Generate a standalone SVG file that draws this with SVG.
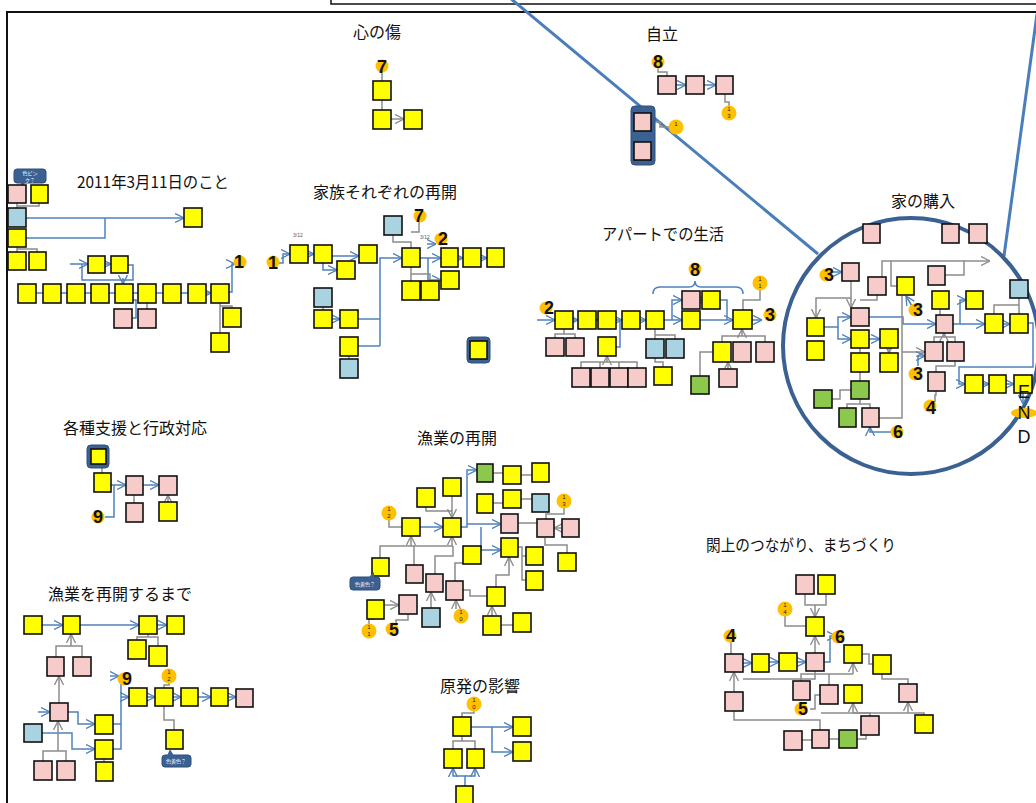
<svg xmlns="http://www.w3.org/2000/svg" width="1036" height="803" viewBox="0 0 1036 803">
<style>
.y{fill:#FFFF00;stroke:#111;stroke-width:1.6}
.p{fill:#F8CBCB;stroke:#111;stroke-width:1.6}
.b{fill:#A9D3E0;stroke:#111;stroke-width:1.6}
.g{fill:#8CC84B;stroke:#111;stroke-width:1.6}
.hl{fill:#3B6092;stroke:#2E4F7A;stroke-width:1}
.t{font-family:"Noto Sans CJK JP","Noto Sans",sans-serif;font-size:16px;fill:#111}
.n{font-family:"Liberation Sans",Arial,sans-serif;font-size:18px;font-weight:bold;fill:#111;text-anchor:middle}
.s{font-family:"Liberation Sans",Arial,sans-serif;font-size:6px;fill:#222;text-anchor:middle}
.tiny{font-family:"Liberation Sans",Arial,sans-serif;font-size:5px;fill:#555}
.co{font-family:"Noto Sans CJK JP",sans-serif;font-size:5px;fill:#fff;text-anchor:middle}
.or{fill:#FFC000}
.cb{fill:none;stroke:#4F81BD;stroke-width:1.5;marker-end:url(#mb)}
.cbn{fill:none;stroke:#4F81BD;stroke-width:1.5}
.cg{fill:none;stroke:#8C8C8C;stroke-width:1.5}
.cga{fill:none;stroke:#8C8C8C;stroke-width:1.5;marker-end:url(#mg)}
</style>
<defs>
<marker id="mb" viewBox="0 0 10 10" refX="10" refY="5" markerWidth="9" markerHeight="10" markerUnits="userSpaceOnUse" orient="auto"><path d="M0,0 L10,5 L0,10" fill="none" stroke="#4F81BD" stroke-width="1.5"/></marker>
<marker id="mg" viewBox="0 0 10 10" refX="10" refY="5" markerWidth="9" markerHeight="10" markerUnits="userSpaceOnUse" orient="auto"><path d="M0,0 L10,5 L0,10" fill="none" stroke="#8C8C8C" stroke-width="1.5"/></marker>
</defs>
<rect width="1036" height="803" fill="#fff"/>
<g id="frame">
<rect x="7" y="12" width="1040" height="800" fill="none" stroke="#111" stroke-width="2"/>
<rect x="331" y="-10" width="710" height="14" fill="#fff" stroke="#111" stroke-width="1.5"/>
</g>
<g id="magnifier">
<line x1="510" y1="-2" x2="818" y2="254" stroke="#4A7EBB" stroke-width="3"/>
<line x1="1037" y1="14" x2="1004" y2="256" stroke="#4A7EBB" stroke-width="3"/>
<circle cx="911" cy="346" r="128" fill="none" stroke="#3B6092" stroke-width="4"/>
</g>
<g id="titles">
<text class="t" x="353" y="38">心の傷</text>
<text class="t" x="646" y="40">自立</text>
<text class="t" x="77" y="188" textLength="152" lengthAdjust="spacingAndGlyphs">2011年3月11日のこと</text>
<text class="t" x="313" y="198">家族それぞれの再開</text>
<text class="t" x="602" y="240" textLength="122" lengthAdjust="spacingAndGlyphs">アパートでの生活</text>
<text class="t" x="891" y="207">家の購入</text>
<text class="t" x="63" y="434">各種支援と行政対応</text>
<text class="t" x="417" y="444">漁業の再開</text>
<text class="t" x="706" y="551" textLength="190" lengthAdjust="spacingAndGlyphs">閖上のつながり、まちづくり</text>
<text class="t" x="48" y="600">漁業を再開するまで</text>
<text class="t" x="440" y="692">原発の影響</text>
</g>
<g id="connectors">
<path class="cb" d="M26,218 H184"/>
<path class="cbn" d="M26,238 H105 V218"/>
<path class="cg" d="M17,203 V208 M39,203 V206 H17 M17,247 V252 M17,249 H37 V252"/>
<path class="cb" d="M70,264 H88"/>
<path class="cb" d="M105,264 H111"/>
<path class="cbn" d="M82,264 V280 H133 V265 H128"/>
<path class="cb" d="M123,278 V284"/>
<path class="cb" d="M36,293 H43 M61,293 H67 M85,293 H91 M109,293 H115 M133,293 H138 M156,293 H163 M181,293 H188 M206,293 H211"/>
<path class="cb" d="M229,292 H232 V264 H235"/>
<path class="cbn" d="M133,300 H136 V318 H132"/>
<path class="cg" d="M220,303 V333 M220,306 H232 V308 M147,303 V309"/>
<path class="cg" d="M102,468 V473"/>
<path class="cb" d="M111,485 H126"/>
<path class="cbn" d="M105,517 H114 V485"/>
<path class="cb" d="M143,485 H159"/>
<path class="cga" d="M134,503 V495 M168,502 V495"/>
<path class="cg" d="M382,72 V81 M382,100 V110"/>
<path class="cga" d="M391,119 H404"/>
<path class="cb" d="M276,263 H283 V254 H290"/>
<path class="cb" d="M308,254 H314"/>
<path class="cb" d="M332,256 H359"/>
<path class="cb" d="M323,263 V270 H337"/>
<path class="cbn" d="M358,319 H380 M358,346 H380"/>
<path class="cb" d="M380,346 V258 H402"/>
<path class="cg" d="M393,235 V242 H411 V248 M419,222 V232 H411"/>
<path class="cb" d="M420,258 H441"/>
<path class="cb" d="M428,258 V280 H441"/>
<path class="cb" d="M459,258 H463"/>
<path class="cb" d="M481,258 H487"/>
<path class="cb" d="M427,244 H436"/>
<path class="cg" d="M411,267 V274 H430 V281 M411,274 V281"/>
<path class="cg" d="M323,307 V310 M349,356 V359"/>
<path class="cb" d="M332,319 H340"/>
<path class="cg" d="M658,68 V72 H667 V76"/>
<path class="cb" d="M676,85 H686"/>
<path class="cb" d="M704,85 H716"/>
<path class="cg" d="M725,94 V102 H729 V106 M651,122 H660 V127 H669"/>
<path class="cb" d="M537,320 H555"/>
<path class="cb" d="M573,320 H578"/>
<path class="cb" d="M592,320 H598"/>
<path class="cb" d="M616,320 H622"/>
<path class="cb" d="M640,320 H646"/>
<path class="cb" d="M664,320 H682"/>
<path class="cb" d="M672,320 V300 H682"/>
<path class="cb" d="M700,300 H706"/>
<path class="cbn" d="M720,300 H727 V320"/>
<path class="cb" d="M700,320 H733"/>
<path class="cb" d="M752,320 H762"/>
<path class="cbn" d="M616,347 H620 V320"/>
<path class="cbn" d="M653,294 Q653,287 660,287 H689 Q695,287 695,281 Q695,287 701,287 H736 Q743,287 743,294"/>
<path class="cg" d="M760,290 V300 H743 V310"/>
<path class="cg" d="M564,329 V334 H555 V338 M564,334 H575 V338"/>
<path class="cg" d="M581,368 V362 H637 V368 M600,368 V362 M619,368 V362"/>
<path class="cga" d="M607,362 V356"/>
<path class="cg" d="M655,329 V335 H675 V339 M655,335 V339 M655,358 V362 H663 V367"/>
<path class="cg" d="M722,342 V336 H765 V342"/>
<path class="cga" d="M742,336 V329"/>
<path class="cg" d="M700,376 V352 H713"/>
<path class="cga" d="M728,369 V362"/>
<path class="cg" d="M882,288 V261 H964 V275 H945"/>
<path class="cga" d="M964,261 H990"/>
<path class="cg" d="M897,286 H891 V261"/>
<path class="cb" d="M832,272 H842"/>
<path class="cga" d="M851,281 V298 H816 V318"/>
<path class="cga" d="M851,298 V308"/>
<path class="cg" d="M877,295 V300 H860"/>
<path class="cb" d="M912,306 L906,296"/>
<path class="cb" d="M824,327 H838 V317 H851"/>
<path class="cb" d="M838,327 V339 H851"/>
<path class="cb" d="M869,317 H903 V324 H936"/>
<path class="cb" d="M869,339 H880"/>
<path class="cg" d="M860,348 V353"/>
<path class="cga" d="M889,345 V353"/>
<path class="cg" d="M860,372 V381 M851,390 H840 V399 H832 M860,399 V404 H847 V408 M860,404 H870 V408"/>
<path class="cg" d="M879,418 H902 V296"/>
<path class="cga" d="M902,352 H925"/>
<path class="cb" d="M892,432 H870 V427"/>
<path class="cg" d="M940,309 V315"/>
<path class="cb" d="M953,324 H960 V300 H966"/>
<path class="cb" d="M960,324 H985"/>
<path class="cg" d="M934,342 V337 H955 V342 M936,372 V366 H955 V361"/>
<path class="cga" d="M944,337 V333"/>
<path class="cb" d="M918,366 V356 H925"/>
<path class="cg" d="M935,402 V395 H936 V391"/>
<path class="cb" d="M1003,324 H1010"/>
<path class="cg" d="M1019,298 V305 H994 V314 M1019,305 V314"/>
<path class="cb" d="M1028,323 H1033 V367 H959 V384 H965"/>
<path class="cb" d="M983,384 H989"/>
<path class="cb" d="M1006,384 H1014"/>
<path class="cb" d="M1023,393 V404"/>
<path class="cg" d="M389,520 V527 H402"/>
<path class="cb" d="M420,527 H443"/>
<path class="cg" d="M426,507 V511 H452"/>
<path class="cga" d="M452,496 V518"/>
<path class="cb" d="M461,527 H467 V470 H477"/>
<path class="cb" d="M467,524 H501"/>
<path class="cb" d="M481,527 V550 H501"/>
<path class="cg" d="M493,473 H503 M493,503 H503 M521,475 H532 M521,499 H532 M518,523 H537"/>
<path class="cg" d="M564,508 V514 H546 V519"/>
<path class="cga" d="M562,528 H554"/>
<path class="cg" d="M380,558 V546 H453 M414,565 V546 M435,574 V556 H453 V546 M455,581 V563 H470"/>
<path class="cga" d="M411,546 V536"/>
<path class="cga" d="M452,546 V536"/>
<path class="cg" d="M463,590 H470 V596 H487"/>
<path class="cga" d="M496,587 V575 H509 V557"/>
<path class="cga" d="M492,616 V606"/>
<path class="cg" d="M501,625 H513 M518,547 H522 V580 H526 M522,556 H526 M545,538 V545 H567 V553"/>
<path class="cga" d="M431,608 V592"/>
<path class="cga" d="M384,605 H399"/>
<path class="cg" d="M408,614 V620 H396 V624 M369,624 V619 H375"/>
<path class="cga" d="M456,609 V600"/>
<path class="cg" d="M474,711 V713 H462 V717"/>
<path class="cb" d="M471,727 H513"/>
<path class="cb" d="M492,727 V752 H513"/>
<path class="cg" d="M462,736 V741 H453 V749 M462,741 H475 V749"/>
<path class="cb" d="M465,786 V776 H453 V768"/>
<path class="cb" d="M465,776 H475 V768"/>
<path class="cg" d="M731,642 V654"/>
<path class="cb" d="M743,663 H752"/>
<path class="cb" d="M769,662 H779"/>
<path class="cb" d="M797,662 H806"/>
<path class="cb" d="M824,662 H830 V636 H836"/>
<path class="cg" d="M785,616 V626 H806 M805,594 V605 H826 V594"/>
<path class="cga" d="M815,605 V617"/>
<path class="cga" d="M815,653 V636"/>
<path class="cga" d="M734,692 V672"/>
<path class="cg" d="M743,679 H815 V671 M734,711 V720 H820 V730"/>
<path class="cg" d="M862,654 H869 V664 H873"/>
<path class="cg" d="M801,681 V674 H853 M829,685 V674"/>
<path class="cga" d="M853,674 V663"/>
<path class="cg" d="M882,674 V679 H908 V684"/>
<path class="cga" d="M908,713 V702"/>
<path class="cg" d="M821,713 H924 V715"/>
<path class="cg" d="M810,709 H815 V695 H820"/>
<path class="cga" d="M853,713 V703"/>
<path class="cg" d="M853,713 H870 V716 M802,740 H812 M829,739 H839 M857,739 H866 V735"/>
<path class="cb" d="M42,625 H63"/>
<path class="cb" d="M80,625 H139"/>
<path class="cb" d="M157,625 H167"/>
<path class="cg" d="M148,634 V637 H137 V640 M148,637 H158 V646"/>
<path class="cg" d="M56,657 V646 H82 V657"/>
<path class="cga" d="M71,646 V634"/>
<path class="cga" d="M59,703 V676"/>
<path class="cb" d="M38,712 H50"/>
<path class="cb" d="M68,712 H78 V724 H95"/>
<path class="cb" d="M42,733 H72 V749 H95"/>
<path class="cg" d="M43,761 V751 H66 V761"/>
<path class="cga" d="M58,751 V721"/>
<path class="cg" d="M104,762 V759"/>
<path class="cbn" d="M113,724 H121 M113,749 H121 V676"/>
<path class="cb" d="M121,697 H129"/>
<path class="cb" d="M110,676 H119"/>
<path class="cb" d="M147,697 H155"/>
<path class="cb" d="M173,697 H181"/>
<path class="cb" d="M198,697 H211"/>
<path class="cb" d="M228,697 H236"/>
<path class="cg" d="M169,683 V685 H164 V688 M164,706 V720 H174 V730"/>
</g>
<g id="n-callout-pink"><rect x="14" y="169" width="32" height="14" rx="3" class="hl"/><path d="M20,182 L22,186 L26,182 Z" fill="#3B6092"/><text class="co" x="30" y="175">色ピン</text><text class="co" x="30" y="181.5">ク？</text></g>
<g id="n1a"><rect class="p" x="8" y="185" width="18" height="18"/></g>
<g id="n1b"><rect class="y" x="31" y="185" width="17" height="18"/></g>
<g id="n1c"><rect class="b" x="8" y="208" width="18" height="19"/></g>
<g id="n1d"><rect class="y" x="8" y="229" width="18" height="18"/></g>
<g id="n1e"><rect class="y" x="8" y="252" width="18" height="18"/></g>
<g id="n1f"><rect class="y" x="29" y="252" width="17" height="18"/></g>
<g id="n1g"><rect class="y" x="184" y="208" width="18" height="19"/></g>
<g id="n1h"><rect class="y" x="88" y="256" width="17" height="17"/></g>
<g id="n1i"><rect class="y" x="111" y="256" width="17" height="17"/></g>
<g id="n1r1"><rect class="y" x="18" y="284" width="18" height="19"/></g>
<g id="n1r2"><rect class="y" x="43" y="284" width="18" height="19"/></g>
<g id="n1r3"><rect class="y" x="67" y="284" width="18" height="19"/></g>
<g id="n1r4"><rect class="y" x="91" y="284" width="18" height="19"/></g>
<g id="n1r5"><rect class="y" x="115" y="284" width="18" height="19"/></g>
<g id="n1r6"><rect class="y" x="138" y="284" width="18" height="19"/></g>
<g id="n1r7"><rect class="y" x="163" y="284" width="18" height="19"/></g>
<g id="n1r8"><rect class="y" x="188" y="284" width="18" height="19"/></g>
<g id="n1r9"><rect class="y" x="211" y="284" width="18" height="19"/></g>
<g id="n1p1"><rect class="p" x="114" y="309" width="18" height="19"/></g>
<g id="n1p2"><rect class="p" x="138" y="309" width="18" height="19"/></g>
<g id="n1j"><rect class="y" x="223" y="308" width="18" height="19"/></g>
<g id="n1k"><rect class="y" x="211" y="333" width="18" height="19"/></g>
<g id="num1a"><circle class="or" cx="240" cy="262" r="6.5"/><text class="n" x="239" y="268">1</text></g>
<g id="n2a"><rect class="hl" x="87" y="445" width="22" height="23" rx="4"/><rect class="y" x="91" y="449" width="15" height="15"/></g>
<g id="n2b"><rect class="y" x="94" y="473" width="17" height="19"/></g>
<g id="n2c"><rect class="p" x="126" y="476" width="17" height="19"/></g>
<g id="n2d"><rect class="p" x="159" y="476" width="18" height="19"/></g>
<g id="n2e"><rect class="p" x="126" y="503" width="17" height="19"/></g>
<g id="n2f"><rect class="y" x="159" y="502" width="18" height="19"/></g>
<g id="num9a"><circle class="or" cx="98" cy="517" r="6.5"/><text class="n" x="98" y="523">9</text></g>
<g id="n3a"><rect class="y" x="373" y="81" width="18" height="19"/></g>
<g id="n3b"><rect class="y" x="373" y="110" width="18" height="19"/></g>
<g id="n3c"><rect class="y" x="404" y="110" width="18" height="19"/></g>
<g id="num7a"><circle class="or" cx="382" cy="66" r="6.5"/><text class="n" x="382" y="73">7</text></g>
<g id="n4a"><rect class="y" x="290" y="245" width="18" height="18"/></g>
<g id="n4b"><rect class="y" x="314" y="245" width="18" height="18"/></g>
<g id="n4c"><rect class="y" x="359" y="245" width="18" height="18"/></g>
<g id="n4d"><rect class="b" x="384" y="216" width="18" height="19"/></g>
<g id="n4e"><rect class="y" x="402" y="248" width="18" height="19"/></g>
<g id="n4f"><rect class="y" x="441" y="248" width="17" height="19"/></g>
<g id="n4g"><rect class="y" x="463" y="248" width="18" height="19"/></g>
<g id="n4h"><rect class="y" x="487" y="248" width="17" height="19"/></g>
<g id="n4i"><rect class="y" x="337" y="261" width="18" height="18"/></g>
<g id="n4j"><rect class="y" x="402" y="281" width="18" height="19"/></g>
<g id="n4k"><rect class="y" x="421" y="281" width="18" height="19"/></g>
<g id="n4l"><rect class="y" x="441" y="271" width="18" height="18"/></g>
<g id="n4m"><rect class="b" x="314" y="288" width="18" height="19"/></g>
<g id="n4n"><rect class="y" x="314" y="310" width="18" height="18"/></g>
<g id="n4o"><rect class="y" x="340" y="310" width="18" height="18"/></g>
<g id="n4p"><rect class="y" x="340" y="337" width="18" height="19"/></g>
<g id="n4q"><rect class="b" x="340" y="359" width="18" height="19"/></g>
<g id="n4r"><rect class="hl" x="467" y="337" width="23" height="26" rx="4"/><rect class="y" x="470" y="341" width="17" height="18"/></g>
<g id="num1b"><circle class="or" cx="273" cy="262" r="6.5"/><text class="n" x="273" y="269">1</text></g>
<g id="num7b"><circle class="or" cx="420" cy="216" r="6.5"/><text class="n" x="419" y="222">7</text></g>
<g id="num2a"><circle class="or" cx="441" cy="239" r="6.5"/><text class="n" x="443" y="245">2</text></g>
<text class="tiny" x="293" y="237">3/12</text>
<text class="tiny" x="420" y="239">3/12</text>
<g id="n5a"><rect class="p" x="658" y="76" width="18" height="18"/></g>
<g id="n5b"><rect class="p" x="686" y="76" width="18" height="18"/></g>
<g id="n5c"><rect class="p" x="716" y="76" width="17" height="18"/></g>
<g id="n5d"><rect class="hl" x="631" y="106" width="24" height="59" rx="4"/><rect class="p" x="634" y="113" width="17" height="18"/><rect class="p" x="634" y="142" width="17" height="18"/></g>
<g id="num8a"><circle class="or" cx="658" cy="62" r="6.5"/><text class="n" x="658" y="68">8</text></g>
<g id="num13a"><circle class="or" cx="729" cy="113" r="7.5"/><text class="s" x="729" y="111">1</text><text class="s" x="729" y="118">3</text></g>
<g id="num1c"><circle class="or" cx="676" cy="127" r="7.5"/><text class="s" x="676" y="126">1</text></g>
<g id="n6a"><rect class="y" x="555" y="311" width="18" height="18"/></g>
<g id="n6b"><rect class="y" x="578" y="311" width="18" height="18"/></g>
<g id="n6c"><rect class="y" x="598" y="311" width="18" height="18"/></g>
<g id="n6d"><rect class="y" x="622" y="311" width="18" height="18"/></g>
<g id="n6e"><rect class="y" x="646" y="311" width="18" height="18"/></g>
<g id="n6f"><rect class="p" x="682" y="291" width="18" height="18"/></g>
<g id="n6g"><rect class="y" x="702" y="291" width="18" height="18"/></g>
<g id="n6h"><rect class="y" x="682" y="311" width="18" height="18"/></g>
<g id="n6i"><rect class="y" x="733" y="310" width="19" height="19"/></g>
<g id="n6j"><rect class="p" x="546" y="338" width="18" height="18"/></g>
<g id="n6k"><rect class="p" x="566" y="338" width="18" height="18"/></g>
<g id="n6l"><rect class="y" x="598" y="337" width="18" height="19"/></g>
<g id="n6m"><rect class="p" x="572" y="368" width="18" height="19"/></g>
<g id="n6n"><rect class="p" x="591" y="368" width="18" height="19"/></g>
<g id="n6o"><rect class="p" x="610" y="368" width="18" height="19"/></g>
<g id="n6p"><rect class="p" x="628" y="368" width="18" height="19"/></g>
<g id="n6q"><rect class="b" x="646" y="339" width="18" height="19"/></g>
<g id="n6r"><rect class="b" x="666" y="339" width="18" height="19"/></g>
<g id="n6s"><rect class="y" x="654" y="367" width="18" height="18"/></g>
<g id="n6t"><rect class="y" x="713" y="342" width="18" height="20"/></g>
<g id="n6u"><rect class="p" x="733" y="342" width="18" height="20"/></g>
<g id="n6v"><rect class="p" x="756" y="342" width="18" height="20"/></g>
<g id="n6w"><rect class="g" x="691" y="376" width="18" height="18"/></g>
<g id="n6x"><rect class="p" x="719" y="369" width="18" height="18"/></g>
<g id="num8b"><circle class="or" cx="695" cy="269" r="6.5"/><text class="n" x="695" y="276">8</text></g>
<g id="num2b"><circle class="or" cx="546" cy="308" r="6.5"/><text class="n" x="549" y="314">2</text></g>
<g id="num3a"><circle class="or" cx="770" cy="315" r="6.5"/><text class="n" x="770" y="321">3</text></g>
<g id="num11a"><circle class="or" cx="760" cy="283" r="7.5"/><text class="s" x="760" y="281">1</text><text class="s" x="760" y="288">1</text></g>
<g id="n7a"><rect class="p" x="863" y="224" width="17" height="19"/></g>
<g id="n7b"><rect class="p" x="942" y="224" width="17" height="19"/></g>
<g id="n7c"><rect class="p" x="969" y="224" width="18" height="19"/></g>
<g id="n7d"><rect class="p" x="842" y="263" width="17" height="18"/></g>
<g id="n7e"><rect class="p" x="868" y="277" width="18" height="18"/></g>
<g id="n7f"><rect class="y" x="897" y="277" width="17" height="18"/></g>
<g id="n7g"><rect class="p" x="928" y="266" width="17" height="19"/></g>
<g id="n7h"><rect class="y" x="932" y="291" width="17" height="18"/></g>
<g id="n7i"><rect class="y" x="966" y="291" width="17" height="18"/></g>
<g id="n7j"><rect class="b" x="1010" y="280" width="18" height="18"/></g>
<g id="n7k"><rect class="y" x="807" y="318" width="17" height="18"/></g>
<g id="n7l"><rect class="y" x="807" y="341" width="17" height="19"/></g>
<g id="n7m"><rect class="p" x="851" y="308" width="18" height="18"/></g>
<g id="n7n"><rect class="y" x="851" y="330" width="18" height="18"/></g>
<g id="n7o"><rect class="y" x="880" y="329" width="18" height="19"/></g>
<g id="n7p"><rect class="y" x="851" y="353" width="18" height="19"/></g>
<g id="n7q"><rect class="y" x="880" y="353" width="18" height="19"/></g>
<g id="n7r"><rect class="p" x="936" y="315" width="17" height="18"/></g>
<g id="n7s"><rect class="y" x="985" y="314" width="18" height="19"/></g>
<g id="n7t"><rect class="y" x="1010" y="314" width="18" height="19"/></g>
<g id="n7u"><rect class="p" x="925" y="342" width="18" height="19"/></g>
<g id="n7v"><rect class="p" x="947" y="342" width="17" height="19"/></g>
<g id="n7w"><rect class="p" x="928" y="372" width="17" height="19"/></g>
<g id="n7x"><rect class="g" x="851" y="381" width="18" height="18"/></g>
<g id="n7y"><rect class="g" x="814" y="390" width="18" height="18"/></g>
<g id="n7z"><rect class="g" x="839" y="408" width="17" height="19"/></g>
<g id="n7aa"><rect class="p" x="862" y="408" width="17" height="19"/></g>
<g id="n7ab"><rect class="y" x="965" y="375" width="18" height="18"/></g>
<g id="n7ac"><rect class="y" x="989" y="375" width="17" height="18"/></g>
<g id="n7ad"><rect class="y" x="1014" y="375" width="18" height="18"/></g>
<g id="num3b"><circle class="or" cx="826" cy="275" r="6.5"/><text class="n" x="829" y="281">3</text></g>
<g id="num3c"><circle class="or" cx="915" cy="310" r="6.5"/><text class="n" x="918" y="316">3</text></g>
<g id="num3d"><circle class="or" cx="915" cy="374" r="6.5"/><text class="n" x="918" y="380">3</text></g>
<g id="num4a"><circle class="or" cx="930" cy="406" r="6.5"/><text class="n" x="931" y="414">4</text></g>
<g id="num6a"><circle class="or" cx="897" cy="432" r="6.5"/><text class="n" x="898" y="438">6</text></g>
<g id="end"><ellipse class="or" cx="1024" cy="413" rx="13" ry="5"/><text class="n" style="font-weight:normal" x="1024" y="398">E</text><text class="n" style="font-weight:normal" x="1024" y="419">N</text><text class="n" style="font-weight:normal" x="1024" y="443">D</text></g>
<g id="n8a"><rect class="g" x="477" y="464" width="16" height="18"/></g>
<g id="n8b"><rect class="y" x="503" y="466" width="18" height="18"/></g>
<g id="n8c"><rect class="y" x="443" y="478" width="18" height="18"/></g>
<g id="n8d"><rect class="y" x="417" y="488" width="18" height="19"/></g>
<g id="n8e"><rect class="y" x="477" y="494" width="16" height="19"/></g>
<g id="n8f"><rect class="y" x="503" y="490" width="18" height="18"/></g>
<g id="n8g"><rect class="y" x="532" y="463" width="17" height="19"/></g>
<g id="n8h"><rect class="b" x="532" y="494" width="17" height="18"/></g>
<g id="n8i"><rect class="p" x="537" y="519" width="17" height="18"/></g>
<g id="n8j"><rect class="p" x="562" y="519" width="17" height="18"/></g>
<g id="n8k"><rect class="y" x="402" y="518" width="18" height="18"/></g>
<g id="n8l"><rect class="y" x="443" y="518" width="18" height="19"/></g>
<g id="n8m"><rect class="p" x="501" y="514" width="17" height="19"/></g>
<g id="n8n"><rect class="y" x="463" y="546" width="18" height="18"/></g>
<g id="n8o"><rect class="y" x="501" y="538" width="17" height="19"/></g>
<g id="n8p"><rect class="y" x="526" y="547" width="17" height="18"/></g>
<g id="n8q"><rect class="y" x="526" y="571" width="17" height="19"/></g>
<g id="n8r"><rect class="y" x="558" y="553" width="18" height="18"/></g>
<g id="n8s"><rect class="y" x="372" y="558" width="17" height="18"/></g>
<g id="n8t"><rect class="p" x="406" y="565" width="17" height="18"/></g>
<g id="n8u"><rect class="p" x="426" y="574" width="17" height="18"/></g>
<g id="n8v"><rect class="p" x="446" y="581" width="17" height="19"/></g>
<g id="n8w"><rect class="y" x="367" y="600" width="17" height="19"/></g>
<g id="n8x"><rect class="p" x="399" y="595" width="18" height="19"/></g>
<g id="n8y"><rect class="b" x="422" y="608" width="18" height="19"/></g>
<g id="n8z"><rect class="y" x="487" y="587" width="18" height="19"/></g>
<g id="n8aa"><rect class="y" x="483" y="616" width="18" height="19"/></g>
<g id="n8ab"><rect class="y" x="513" y="613" width="18" height="19"/></g>
<g id="n-callout-y1"><rect x="350" y="577" width="30" height="13" rx="3" class="hl"/><path d="M368,578 L374,572 L374,578 Z" fill="#3B6092"/><text class="co" x="365" y="585.5">色黄色？</text></g>
<g id="num12a"><circle class="or" cx="389" cy="513" r="7.5"/><text class="s" x="389" y="511">1</text><text class="s" x="389" y="518">2</text></g>
<g id="num13b"><circle class="or" cx="564" cy="501" r="7.5"/><text class="s" x="564" y="499">1</text><text class="s" x="564" y="506">3</text></g>
<g id="num11b"><circle class="or" cx="369" cy="631" r="7.5"/><text class="s" x="369" y="629">1</text><text class="s" x="369" y="636">1</text></g>
<g id="num10a"><circle class="or" cx="461" cy="616" r="7.5"/><text class="s" x="461" y="614">1</text><text class="s" x="461" y="621">0</text></g>
<g id="num5a"><circle class="or" cx="392" cy="629" r="6.5"/><text class="n" x="394" y="636">5</text></g>
<g id="n9a"><rect class="y" x="453" y="717" width="18" height="19"/></g>
<g id="n9b"><rect class="y" x="513" y="717" width="18" height="19"/></g>
<g id="n9c"><rect class="y" x="513" y="742" width="18" height="19"/></g>
<g id="n9d"><rect class="y" x="444" y="749" width="18" height="19"/></g>
<g id="n9e"><rect class="y" x="467" y="749" width="17" height="19"/></g>
<g id="n9f"><rect class="y" x="456" y="786" width="17" height="19"/></g>
<g id="num10b"><circle class="or" cx="474" cy="704" r="7.5"/><text class="s" x="474" y="702">1</text><text class="s" x="474" y="709">0</text></g>
<g id="n10a"><rect class="p" x="725" y="654" width="18" height="18"/></g>
<g id="n10b"><rect class="y" x="752" y="654" width="17" height="18"/></g>
<g id="n10c"><rect class="p" x="725" y="692" width="18" height="19"/></g>
<g id="n10d"><rect class="p" x="796" y="575" width="18" height="19"/></g>
<g id="n10e"><rect class="y" x="818" y="575" width="17" height="19"/></g>
<g id="n10f"><rect class="y" x="806" y="617" width="18" height="19"/></g>
<g id="n10g"><rect class="y" x="779" y="653" width="18" height="18"/></g>
<g id="n10h"><rect class="p" x="806" y="653" width="18" height="18"/></g>
<g id="n10i"><rect class="y" x="844" y="645" width="18" height="18"/></g>
<g id="n10j"><rect class="y" x="873" y="655" width="18" height="19"/></g>
<g id="n10k"><rect class="p" x="793" y="681" width="17" height="19"/></g>
<g id="n10l"><rect class="p" x="820" y="685" width="18" height="19"/></g>
<g id="n10m"><rect class="y" x="844" y="685" width="18" height="18"/></g>
<g id="n10n"><rect class="p" x="899" y="684" width="18" height="18"/></g>
<g id="n10o"><rect class="p" x="861" y="716" width="18" height="19"/></g>
<g id="n10p"><rect class="y" x="915" y="715" width="18" height="18"/></g>
<g id="n10q"><rect class="p" x="784" y="731" width="18" height="19"/></g>
<g id="n10r"><rect class="p" x="812" y="730" width="17" height="18"/></g>
<g id="n10s"><rect class="g" x="839" y="730" width="18" height="18"/></g>
<g id="num4b"><circle class="or" cx="730" cy="636" r="6.5"/><text class="n" x="731" y="642">4</text></g>
<g id="num6b"><circle class="or" cx="838" cy="637" r="6.5"/><text class="n" x="840" y="643">6</text></g>
<g id="num5b"><circle class="or" cx="801" cy="709" r="6.5"/><text class="n" x="803" y="715">5</text></g>
<g id="num14a"><circle class="or" cx="785" cy="609" r="7.5"/><text class="s" x="785" y="607">1</text><text class="s" x="785" y="614">4</text></g>
<g id="n11a"><rect class="y" x="24" y="616" width="18" height="18"/></g>
<g id="n11b"><rect class="y" x="63" y="616" width="17" height="18"/></g>
<g id="n11c"><rect class="y" x="139" y="616" width="18" height="18"/></g>
<g id="n11d"><rect class="y" x="167" y="616" width="17" height="18"/></g>
<g id="n11e"><rect class="y" x="128" y="640" width="18" height="19"/></g>
<g id="n11f"><rect class="y" x="149" y="646" width="18" height="20"/></g>
<g id="n11g"><rect class="p" x="47" y="657" width="17" height="19"/></g>
<g id="n11h"><rect class="p" x="73" y="657" width="18" height="19"/></g>
<g id="n11i"><rect class="y" x="129" y="688" width="18" height="18"/></g>
<g id="n11j"><rect class="y" x="155" y="688" width="18" height="18"/></g>
<g id="n11k"><rect class="y" x="181" y="688" width="17" height="18"/></g>
<g id="n11l"><rect class="y" x="211" y="688" width="17" height="18"/></g>
<g id="n11m"><rect class="p" x="236" y="689" width="17" height="18"/></g>
<g id="n11n"><rect class="p" x="50" y="703" width="18" height="18"/></g>
<g id="n11o"><rect class="b" x="24" y="724" width="18" height="18"/></g>
<g id="n11p"><rect class="y" x="95" y="715" width="18" height="19"/></g>
<g id="n11q"><rect class="y" x="95" y="740" width="18" height="19"/></g>
<g id="n11r"><rect class="y" x="96" y="762" width="17" height="19"/></g>
<g id="n11s"><rect class="y" x="166" y="730" width="17" height="19"/></g>
<g id="n11t"><rect class="p" x="34" y="761" width="18" height="19"/></g>
<g id="n11u"><rect class="p" x="57" y="761" width="18" height="19"/></g>
<g id="n-callout-y2"><rect x="162" y="755" width="29" height="12" rx="3" class="hl"/><path d="M167,756 L170,749 L174,756 Z" fill="#3B6092"/><text class="co" x="176" y="763">色黄色？</text></g>
<g id="num9b"><circle class="or" cx="124" cy="679" r="6.5"/><text class="n" x="127" y="685">9</text></g>
<g id="num12b"><circle class="or" cx="169" cy="676" r="7.5"/><text class="s" x="169" y="674">1</text><text class="s" x="169" y="681">2</text></g>
</svg>
